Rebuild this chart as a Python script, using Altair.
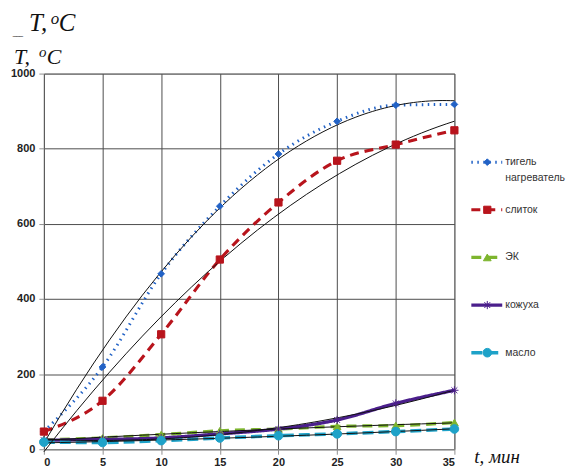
import altair as alt
import pandas as pd

# ---- data ----
t_min = [0, 5, 10, 15, 20, 25, 30, 35]
heater = [47, 219, 467, 647, 786, 873, 916, 918]
ingot = [47, 129, 306, 505, 657, 768, 811, 849]
ek = [25, 30, 39, 49, 54, 61, 63, 71]
kozhukha = [24, 26, 30, 41, 54, 78, 122, 157]
maslo = [19, 18, 23, 30, 36, 41, 47, 54]

series_names = ["тигель нагреватель", "слиток", "ЭК", "кожуха", "масло"]
legend_line1 = ["тигель", "слиток", "ЭК", "кожуха", "масло"]
legend_line2 = ["нагреватель", "", "", "", ""]

y_ticks = [0, 200, 400, 600, 800, 1000]
x_ticks = [0, 5, 10, 15, 20, 25, 30, 35]

colors = ["#2262c6", "#b8141c", "#7db52e", "#4b1f8c", "#1ea2c8"]
dashes = [[1.5, 4.5], [9, 6], [10, 6], [1, 0], [11, 5]]
widths = [3, 3.5, 3, 2.5, 3]
asterisk = "M-1,0L1,0M0,-1L0,1M-0.72,-0.72L0.72,0.72M-0.72,0.72L0.72,-0.72"
shapes = ["diamond", "square", "triangle-up", asterisk, "circle"]
sizes = [45, 75, 55, 80, 55]

rows = []
for name, vals in zip(series_names, [heater, ingot, ek, kozhukha, maslo]):
    for tv, v in zip(t_min, vals):
        rows.append({"t": tv, "T": v, "series": name})
df = pd.DataFrame(rows)

legend_df = pd.DataFrame({"series": series_names, "l1": legend_line1, "l2": legend_line2})

PH = 377  # plot height

dom = series_names
c_scale = alt.Scale(domain=dom, range=colors)
d_scale = alt.Scale(domain=dom, range=dashes)
w_scale = alt.Scale(domain=dom, range=widths)
s_scale = alt.Scale(domain=dom, range=shapes)
z_scale = alt.Scale(domain=dom, range=sizes)

X = alt.X("t:Q", scale=alt.Scale(domain=[0, 35], nice=False),
          axis=alt.Axis(values=x_ticks, title=None, grid=True, labelPadding=2,
                        tickSize=5, domainColor="#909090", tickColor="#909090"))
Y = alt.Y("T:Q", scale=alt.Scale(domain=[0, 1000], nice=False),
          axis=alt.Axis(values=y_ticks, title=None, grid=True, labelPadding=4, format="d",
                        tickSize=5, domain=False, tickColor="#909090"))

base = alt.Chart(df)

lines = base.mark_line(interpolate="monotone", strokeCap="butt").encode(
    x=X, y=Y,
    color=alt.Color("series:N", scale=c_scale, legend=None),
    strokeDash=alt.StrokeDash("series:N", scale=d_scale, legend=None),
    strokeWidth=alt.StrokeWidth("series:N", scale=w_scale, legend=None),
    detail="series:N",
)

trend = base.transform_regression(
    "t", "T", groupby=["series"], method="poly", order=2, extent=[0, 35]
).mark_line(color="#111111", strokeWidth=1).encode(
    x="t:Q", y="T:Q", detail="series:N"
)

points = base.mark_point(filled=True, opacity=1, strokeWidth=1).encode(
    x="t:Q", y="T:Q",
    color=alt.Color("series:N", scale=c_scale, legend=None),
    stroke=alt.Stroke("series:N", scale=c_scale, legend=None),
    shape=alt.Shape("series:N", scale=s_scale, legend=None),
    size=alt.Size("series:N", scale=z_scale, legend=None),
)

one = alt.Data(values=[{}])
serif = "Liberation Serif"


def txt(s, size, x, y):
    return alt.Chart(one).mark_text(text=s, font=serif, fontStyle="italic", fontSize=size,
                                    align="left", baseline="alphabetic",
                                    color="#111").encode(x=alt.value(x), y=alt.value(y))


t1 = txt("T,", 25, -15, -43)
o1 = txt("o", 17, 7, -50)
c1 = txt("C", 25, 15, -43)
t2 = txt("T,", 22, -30, -10)
o2 = txt("o", 15, -5, -17)
c2 = txt("C", 22, 3, -10)
junk = alt.Chart(one).mark_text(text="‾‾‾", fontSize=10, align="left", baseline="top",
                                color="#333").encode(x=alt.value(-31), y=alt.value(-38))

main = alt.layer(lines, trend, points, t1, o1, c1, t2, o2, c2, junk).properties(
    width=412, height=PH)

# ---- custom legend panel ----
LX = alt.Scale(domain=[0, 90], range=[0, 90])
LY = alt.Scale(domain=dom, range=[65, 304])
LYenc = alt.Y("series:N", scale=LY, axis=None)
lbase = alt.Chart(legend_df)
leg_lines = lbase.mark_rule(strokeCap="butt").encode(
    x=alt.XDatum(2, scale=LX, axis=None), x2=alt.X2Datum(33),
    y=LYenc,
    color=alt.Color("series:N", scale=c_scale, legend=None),
    strokeDash=alt.StrokeDash("series:N", scale=d_scale, legend=None),
    strokeWidth=alt.StrokeWidth("series:N", scale=w_scale, legend=None),
)
leg_pts = lbase.mark_point(filled=True, opacity=1, strokeWidth=1).encode(
    x=alt.XDatum(18, scale=LX, axis=None),
    y=LYenc,
    color=alt.Color("series:N", scale=c_scale, legend=None),
    stroke=alt.Stroke("series:N", scale=c_scale, legend=None),
    shape=alt.Shape("series:N", scale=s_scale, legend=None),
    size=alt.Size("series:N", scale=z_scale, legend=None),
)
leg_t1 = lbase.mark_text(align="left", baseline="middle", fontSize=10.5,
                         font="Liberation Sans", color="#333").encode(
    x=alt.XDatum(36, scale=LX, axis=None), y=LYenc, text="l1:N")
leg_t2 = lbase.mark_text(align="left", baseline="middle", fontSize=10.5, dy=16,
                         font="Liberation Sans", color="#333").encode(
    x=alt.XDatum(36, scale=LX, axis=None), y=LYenc, text="l2:N")
xtitle = alt.Chart(one).mark_text(text="t, мин", font=serif, fontStyle="italic",
                                  fontSize=19, align="left", baseline="alphabetic",
                                  color="#111").encode(x=alt.value(5), y=alt.value(PH + 14))

legend_panel = alt.layer(leg_lines, leg_pts, leg_t1, leg_t2, xtitle).properties(
    width=90, height=PH, view=alt.ViewBackground(stroke="transparent"))

chart = alt.hconcat(main, legend_panel, spacing=6).resolve_scale(
    x="independent", y="independent"
).properties(padding={"left": 2, "top": 0, "right": 0, "bottom": 0}).configure_view(
    stroke="#a8a8a8"
).configure_axis(
    gridColor="#4d4d4d", gridWidth=1, labelFont="Liberation Sans", labelFontWeight="bold",
    labelFontSize=11, labelColor="#222"
).configure_concat(spacing=6)

chart.save("out.html", embed_options={"renderer": "svg", "actions": False})
